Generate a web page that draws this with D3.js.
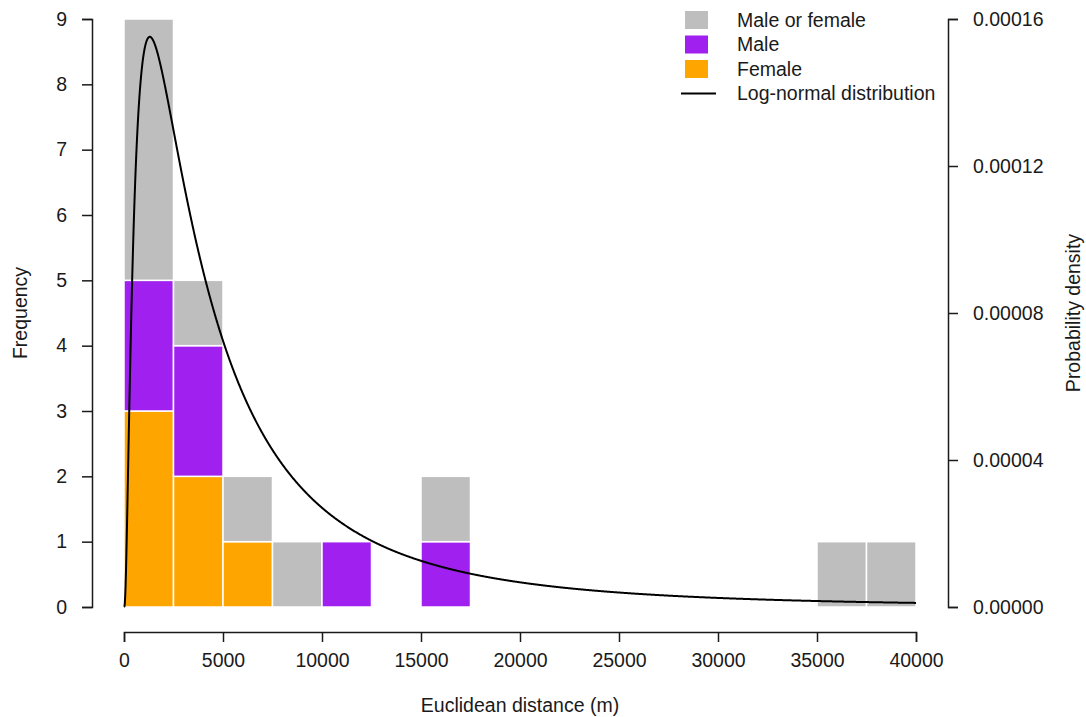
<!DOCTYPE html>
<html>
<head>
<meta charset="utf-8">
<script src="https://cdn.jsdelivr.net/npm/d3@7"></script>
<style>
  html, body { margin: 0; padding: 0; background: #ffffff; }
  svg text { font-family: "Liberation Sans", Arial, sans-serif; fill: #1a1a1a; }
</style>
</head>
<body>
<svg id="chart" width="1086" height="717"></svg>
<script>
// Histogram bins (lower edge, metres) and counts per group
const binWidth = 2500;
const binStart = [0, 2500, 5000, 7500, 10000, 15000, 35000, 37500];
const femaleCounts = [3, 2, 1, 0, 0, 0, 0, 0];
const maleCounts = [2, 2, 0, 0, 1, 1, 0, 0];
const eitherCounts = [4, 1, 1, 1, 0, 1, 1, 1];

// Fitted log-normal parameters (natural-log scale)
const meanlog = 8.36;
const sdlog = 1.09;

// Axis ticks
const xTicks = [0, 5000, 10000, 15000, 20000, 25000, 30000, 35000, 40000];
const yTicks = [0, 1, 2, 3, 4, 5, 6, 7, 8, 9];
const densityTicks = [0, 0.00004, 0.00008, 0.00012, 0.00016];

const groups = [
  { name: "Male or female", color: "#bebebe", counts: eitherCounts },
  { name: "Male", color: "#a020f0", counts: maleCounts },
  { name: "Female", color: "#ffa500", counts: femaleCounts }
];

const svg = d3.select("#chart");
const FONT = 19.5;

const x = d3.scaleLinear().domain([0, 40000]).range([124, 916]);
const y = d3.scaleLinear().domain([0, 9]).range([607, 19]);
const yDens = d3.scaleLinear().domain([0, 0.00016]).range([607, 19]);

// Stacked bars: female at the bottom, then male, then unknown sex
const stackOrder = [groups[2], groups[1], groups[0]];
binStart.forEach((b, i) => {
  let base = 0;
  stackOrder.forEach(g => {
    const c = g.counts[i];
    if (c > 0) {
      svg.append("rect")
        .attr("x", x(b))
        .attr("y", y(base + c))
        .attr("width", x(b + binWidth) - x(b))
        .attr("height", y(base) - y(base + c))
        .attr("fill", g.color)
        .attr("stroke", "#ffffff")
        .attr("stroke-width", 1.5);
      base += c;
    }
  });
});

// Log-normal density curve
function dlnorm(v) {
  if (v <= 0) return 0;
  const z = (Math.log(v) - meanlog) / sdlog;
  return Math.exp(-0.5 * z * z) / (v * sdlog * Math.sqrt(2 * Math.PI));
}
const curveX = d3.range(0, 40001, 20);
const line = d3.line()
  .x(d => x(d))
  .y(d => yDens(dlnorm(d)))
  .curve(d3.curveLinear);
svg.append("path")
  .datum(curveX)
  .attr("d", line)
  .attr("fill", "none")
  .attr("stroke", "#000000")
  .attr("stroke-width", 2);

// Axes
function styleAxis(g) {
  g.selectAll("path.domain").attr("stroke", "#1a1a1a").attr("stroke-width", 1.5);
  g.selectAll(".tick line").attr("stroke", "#1a1a1a").attr("stroke-width", 1.5);
  g.selectAll(".tick text").style("font-size", FONT + "px").attr("fill", "#1a1a1a");
}

const xAxis = svg.append("g")
  .attr("transform", "translate(0,632)")
  .call(d3.axisBottom(x).tickValues(xTicks).tickFormat(d3.format("d"))
    .tickSizeOuter(0).tickSize(10).tickPadding(11));
styleAxis(xAxis);

const yAxis = svg.append("g")
  .attr("transform", "translate(92,0)")
  .call(d3.axisLeft(y).tickValues(yTicks).tickFormat(d3.format("d"))
    .tickSizeOuter(0).tickSize(10).tickPadding(15));
styleAxis(yAxis);

const rAxis = svg.append("g")
  .attr("transform", "translate(948,0)")
  .call(d3.axisRight(yDens).tickValues(densityTicks).tickFormat(d3.format(".5f"))
    .tickSizeOuter(0).tickSize(10).tickPadding(15));
styleAxis(rAxis);

// Axis titles
svg.append("text")
  .attr("x", 520).attr("y", 712)
  .attr("text-anchor", "middle")
  .style("font-size", FONT + "px")
  .text("Euclidean distance (m)");

svg.append("text")
  .attr("transform", "translate(27,313) rotate(-90)")
  .attr("text-anchor", "middle")
  .style("font-size", FONT + "px")
  .text("Frequency");

svg.append("text")
  .attr("transform", "translate(1080,313) rotate(-90)")
  .attr("text-anchor", "middle")
  .style("font-size", FONT + "px")
  .text("Probability density");

// Legend
const legendRows = [
  { label: groups[0].name, color: groups[0].color, kind: "box" },
  { label: groups[1].name, color: groups[1].color, kind: "box" },
  { label: groups[2].name, color: groups[2].color, kind: "box" },
  { label: "Log-normal distribution", color: "#000000", kind: "line" }
];
const legend = svg.append("g");
legendRows.forEach((r, i) => {
  const cy = 20 + i * 24.5;
  if (r.kind === "box") {
    legend.append("rect")
      .attr("x", 685).attr("y", cy - 9)
      .attr("width", 23).attr("height", 18)
      .attr("fill", r.color);
  } else {
    legend.append("line")
      .attr("x1", 681).attr("x2", 716)
      .attr("y1", cy).attr("y2", cy)
      .attr("stroke", r.color).attr("stroke-width", 2);
  }
  legend.append("text")
    .attr("x", 737).attr("y", cy)
    .attr("dy", "0.35em")
    .style("font-size", FONT + "px")
    .text(r.label);
});
</script>
</body>
</html>
